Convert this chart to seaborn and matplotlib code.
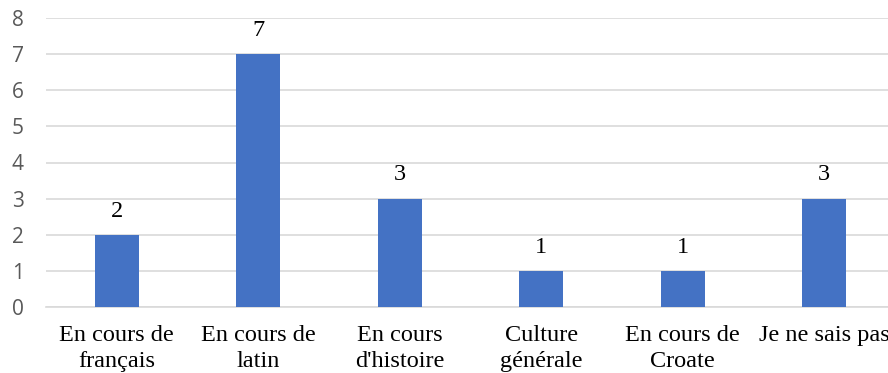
import matplotlib
matplotlib.use("Agg")
import matplotlib.pyplot as plt
import seaborn as sns
import pandas as pd
import numpy as np

categories = ["En cours de\nfrançais", "En cours de\nlatin", "En cours\nd'histoire",
              "Culture\ngénérale", "En cours de\nCroate", "Je ne sais pas"]
counts = [2, 7, 3, 1, 1, 3]
y_ticks = [0, 1, 2, 3, 4, 5, 6, 7, 8]

df = pd.DataFrame({"categorie": categories, "nombre": counts})

sns.set_theme(style="white")
fig = plt.figure(figsize=(8.88, 3.73), dpi=100)
ax = fig.add_axes([46 / 888, 66 / 373, 849 / 888, 289 / 373])

sns.barplot(data=df, x="categorie", y="nombre", color="#4472C4", width=0.31,
            saturation=1, linewidth=0, ax=ax, zorder=3)

ax.set_ylim(0, 8)
ax.set_xlim(-0.5, len(categories) - 0.5)
ax.set_yticks(y_ticks)
ax.yaxis.grid(True, color="#D9D9D9", linewidth=1.2, zorder=0)
ax.set_axisbelow(True)
for side in ["left", "right", "top"]:
    ax.spines[side].set_visible(False)
ax.spines["bottom"].set_color("#D9D9D9")
ax.spines["bottom"].set_linewidth(1.2)

ax.set_xlabel("")
ax.set_ylabel("")
ax.tick_params(axis="y", length=0, pad=16, labelsize=15, labelcolor="#595959")
for lab in ax.get_yticklabels():
    lab.set_family("Open Sans")

ax.tick_params(axis="x", which="major", length=0, pad=13)
ax.set_xticks(np.arange(-0.5, len(categories)), minor=True)
ax.tick_params(axis="x", which="minor", length=6, width=1.2, color="#D9D9D9")
ax.set_xticklabels(categories, family="Liberation Serif", fontsize=17.5,
                   color="black", linespacing=1.28)

for cont in ax.containers:
    ax.bar_label(cont, labels=[str(v) for v in counts], padding=9.5,
                 family="Liberation Serif", fontsize=17.5, color="black")

fig.savefig("out.png", dpi=100)
